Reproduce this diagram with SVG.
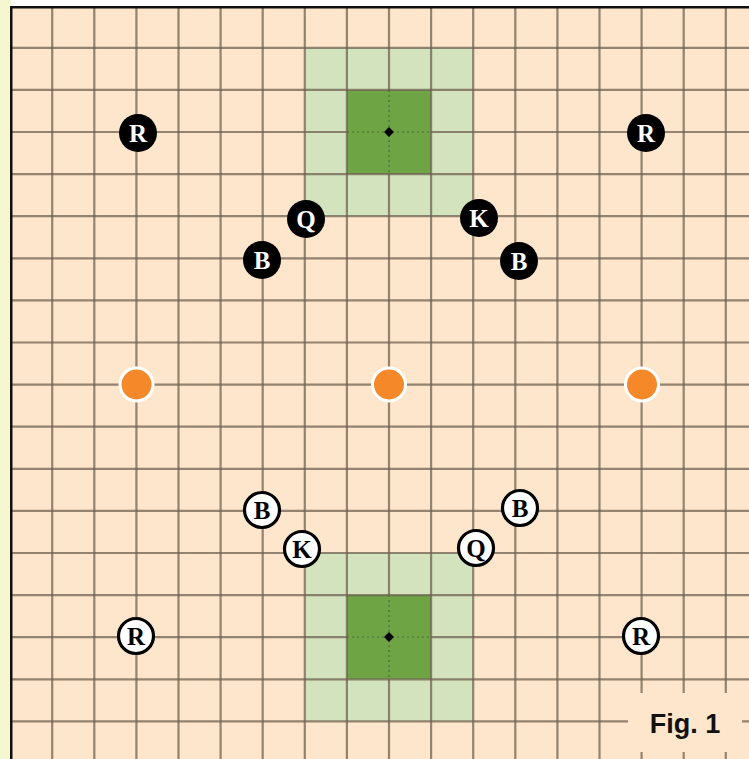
<svg xmlns="http://www.w3.org/2000/svg" width="749" height="759" viewBox="0 0 749 759">
<style>
.grid line{stroke:#6f6251;stroke-width:2.2;stroke-opacity:0.75}
.lg{fill:#d3e3bd}
.dg{fill:#6ea443}
.dash{stroke:#4f6a3a;stroke-width:1.2;stroke-dasharray:2 3}
.bp circle{fill:#000}
.bp text{fill:#fff}
.wp circle{fill:#fff;stroke:#000;stroke-width:3.2}
.wp text{fill:#000}
.pc text{font-family:"Liberation Serif",serif;font-weight:bold;font-size:25px;text-anchor:middle}
.dot{fill:#f5892a;stroke:#fff;stroke-width:3}
</style>
<rect x="0" y="0" width="749" height="759" fill="#ffffff"/>
<rect x="0" y="0" width="11" height="759" fill="#f4f7cf"/>
<rect x="11" y="7" width="738" height="752" fill="#fde6cb"/>
<g id="zone-top">
<rect class="lg" x="305" y="48" width="168" height="168"/>
<rect class="dg" x="347" y="90" width="84" height="84"/>
</g>
<g id="zone-bottom">
<rect class="lg" x="305" y="553" width="168" height="168"/>
<rect class="dg" x="347" y="595" width="84" height="84"/>
</g>
<g class="grid">
<line x1="52.2" y1="7" x2="52.2" y2="759"/>
<line x1="94.3" y1="7" x2="94.3" y2="759"/>
<line x1="136.4" y1="7" x2="136.4" y2="759"/>
<line x1="178.5" y1="7" x2="178.5" y2="759"/>
<line x1="220.6" y1="7" x2="220.6" y2="759"/>
<line x1="262.7" y1="7" x2="262.7" y2="759"/>
<line x1="304.8" y1="7" x2="304.8" y2="759"/>
<line x1="346.9" y1="7" x2="346.9" y2="759"/>
<line x1="389" y1="7" x2="389" y2="90"/>
<line x1="389" y1="174" x2="389" y2="595"/>
<line x1="389" y1="679" x2="389" y2="759"/>
<line x1="431.1" y1="7" x2="431.1" y2="759"/>
<line x1="473.2" y1="7" x2="473.2" y2="759"/>
<line x1="515.3" y1="7" x2="515.3" y2="759"/>
<line x1="557.4" y1="7" x2="557.4" y2="759"/>
<line x1="599.5" y1="7" x2="599.5" y2="759"/>
<line x1="641.6" y1="7" x2="641.6" y2="759"/>
<line x1="683.7" y1="7" x2="683.7" y2="759"/>
<line x1="725.8" y1="7" x2="725.8" y2="759"/>
<line x1="11" y1="47.8" x2="749" y2="47.8"/>
<line x1="11" y1="89.9" x2="749" y2="89.9"/>
<line x1="11" y1="132" x2="347" y2="132"/>
<line x1="431" y1="132" x2="749" y2="132"/>
<line x1="11" y1="174.1" x2="749" y2="174.1"/>
<line x1="11" y1="216.2" x2="749" y2="216.2"/>
<line x1="11" y1="258.3" x2="749" y2="258.3"/>
<line x1="11" y1="300.4" x2="749" y2="300.4"/>
<line x1="11" y1="342.5" x2="749" y2="342.5"/>
<line x1="11" y1="384.6" x2="749" y2="384.6"/>
<line x1="11" y1="426.7" x2="749" y2="426.7"/>
<line x1="11" y1="468.8" x2="749" y2="468.8"/>
<line x1="11" y1="510.9" x2="749" y2="510.9"/>
<line x1="11" y1="553" x2="749" y2="553"/>
<line x1="11" y1="595.1" x2="749" y2="595.1"/>
<line x1="11" y1="637.2" x2="347" y2="637.2"/>
<line x1="431" y1="637.2" x2="749" y2="637.2"/>
<line x1="11" y1="679.3" x2="749" y2="679.3"/>
<line x1="11" y1="721.4" x2="749" y2="721.4"/>
</g>
<g id="centre-marks">
<line class="dash" x1="389" y1="90" x2="389" y2="174"/>
<line class="dash" x1="347" y1="132" x2="431" y2="132"/>
<line class="dash" x1="389" y1="595" x2="389" y2="679"/>
<line class="dash" x1="347" y1="637" x2="431" y2="637"/>
<rect x="385.5" y="128.5" width="7" height="7" transform="rotate(45 389 132)" fill="#000"/>
<rect x="385.5" y="633.5" width="7" height="7" transform="rotate(45 389 637)" fill="#000"/>
</g>
<rect x="11" y="6" width="738" height="2.5" fill="#111"/>
<rect x="10" y="6" width="2.5" height="753" fill="#111"/>
<g id="label-fig1">
<rect x="628" y="693" width="114" height="59" fill="#fde6cb"/>
<text x="685" y="733" font-family="Liberation Sans,Arial,sans-serif" font-weight="bold" font-size="27" text-anchor="middle" fill="#111">Fig. 1</text>
</g>
<g id="dot-left"><circle class="dot" cx="136.5" cy="384.5" r="16.5"/></g>
<g id="dot-centre"><circle class="dot" cx="389" cy="384.5" r="16.5"/></g>
<g id="dot-right"><circle class="dot" cx="642" cy="384.5" r="16.5"/></g>
<g id="black-r1" class="pc bp"><circle cx="138" cy="133" r="19"/><text x="138" y="141.5">R</text></g>
<g id="black-r2" class="pc bp"><circle cx="646" cy="133" r="19"/><text x="646" y="141.5">R</text></g>
<g id="black-q" class="pc bp"><circle cx="306" cy="219" r="19"/><text x="306" y="227.5">Q</text></g>
<g id="black-b1" class="pc bp"><circle cx="262" cy="260" r="19"/><text x="262" y="268.5">B</text></g>
<g id="black-k" class="pc bp"><circle cx="479" cy="218" r="19"/><text x="479" y="226.5">K</text></g>
<g id="black-b2" class="pc bp"><circle cx="519" cy="261" r="19"/><text x="519" y="269.5">B</text></g>
<g id="white-b1" class="pc wp"><circle cx="262" cy="510" r="17.5"/><text x="262" y="518.5">B</text></g>
<g id="white-k" class="pc wp"><circle cx="302" cy="549" r="17.5"/><text x="302" y="557.5">K</text></g>
<g id="white-b2" class="pc wp"><circle cx="520" cy="508" r="17.5"/><text x="520" y="516.5">B</text></g>
<g id="white-q" class="pc wp"><circle cx="476" cy="548" r="17.5"/><text x="476" y="556.5">Q</text></g>
<g id="white-r1" class="pc wp"><circle cx="136" cy="636" r="17.5"/><text x="136" y="644.5">R</text></g>
<g id="white-r2" class="pc wp"><circle cx="641" cy="636" r="17.5"/><text x="641" y="644.5">R</text></g>
</svg>
